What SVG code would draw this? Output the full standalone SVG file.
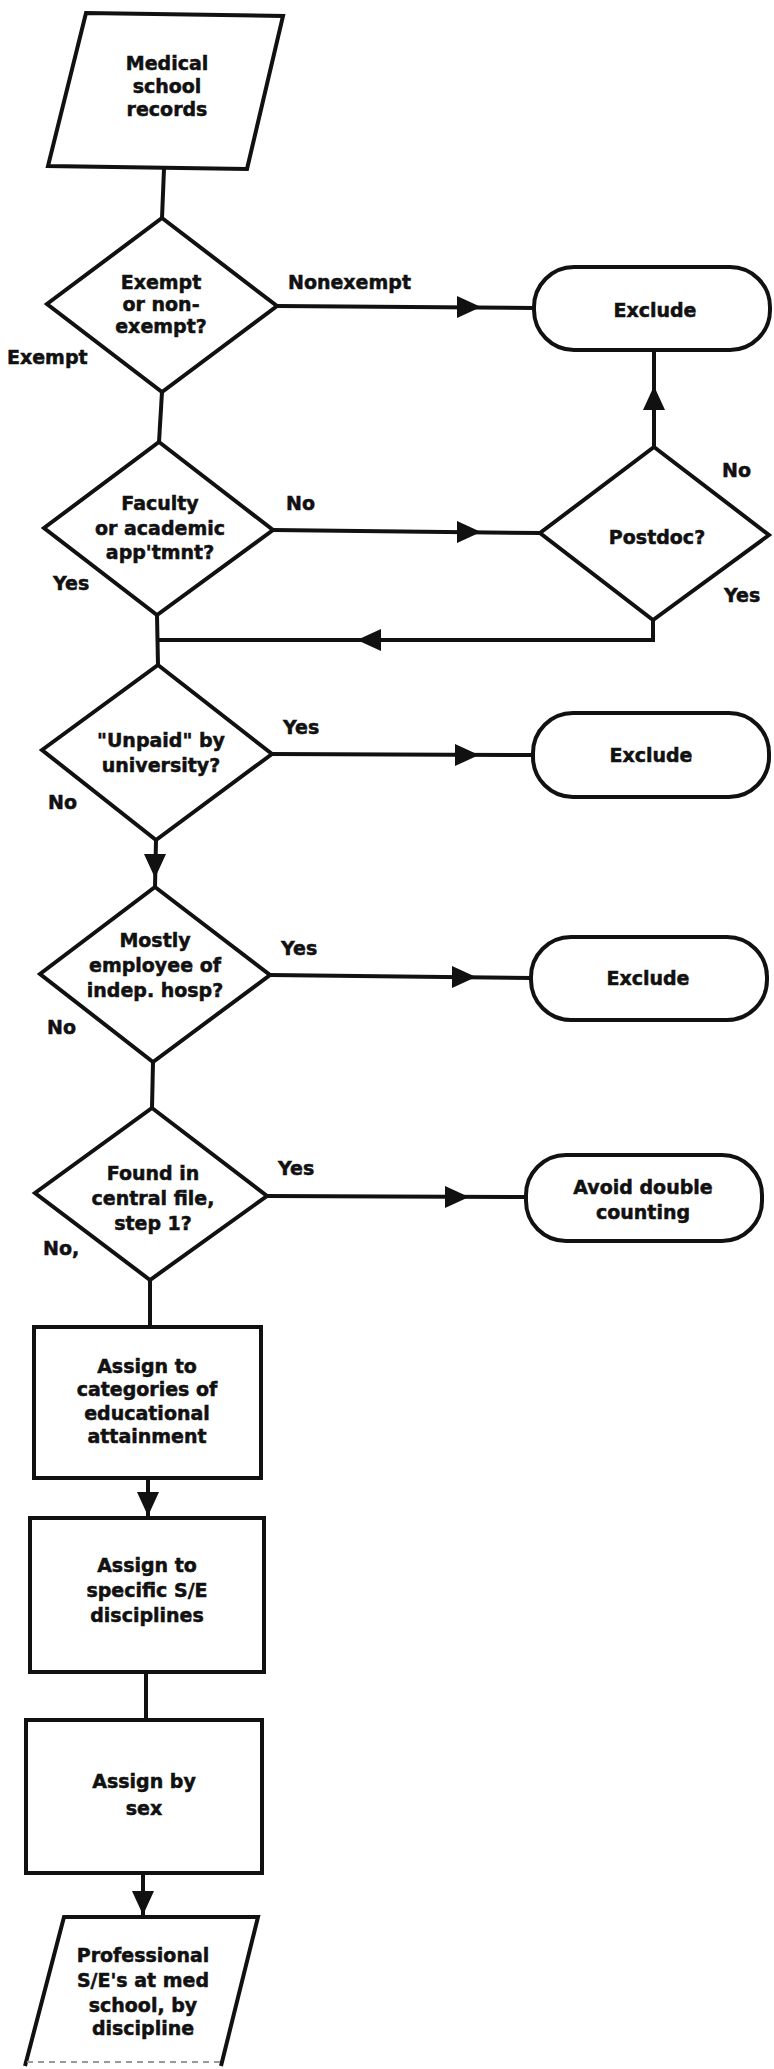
<svg xmlns="http://www.w3.org/2000/svg" xmlns:xlink="http://www.w3.org/1999/xlink" width="774" height="2069" viewBox="0 0 774 2069">
<style>
.s{fill:#fff;stroke:#111;stroke-width:4;stroke-linejoin:miter}
.c{fill:none;stroke:#111;stroke-width:4}
text{font-family:"DejaVu Sans","Liberation Sans",sans-serif;font-weight:bold;font-size:19px;fill:#111;stroke:#111;stroke-width:0.5}
.m{text-anchor:middle}
.ah{fill:#111}
</style>
<defs>
<path id="ah" class="ah" d="M0,0 L-24,-11 L-24,11 Z"/>
</defs>
<rect width="774" height="2069" fill="#fff"/>
<g id="connectors">
<path class="c" d="M164,169 L162,218"/>
<path class="c" d="M277,306 L534,308"/>
<path class="c" d="M162,392 L159,442"/>
<path class="c" d="M273,530 L540,533"/>
<path class="c" d="M654,447 L654,350"/>
<path class="c" d="M653,620 L653,640 L157,640"/>
<path class="c" d="M157,615 L158,665"/>
<path class="c" d="M272,754 L533,755"/>
<path class="c" d="M156,840 L155,887"/>
<path class="c" d="M270,975 L531,978"/>
<path class="c" d="M153,1062 L152,1108"/>
<path class="c" d="M267,1196 L526,1197"/>
<path class="c" d="M150,1280 L150,1327"/>
<path class="c" d="M148,1478 L148,1518"/>
<path class="c" d="M146,1672 L146,1720"/>
<path class="c" d="M143,1873 L143,1917"/>
<use xlink:href="#ah" transform="translate(481,307)"/>
<use xlink:href="#ah" transform="translate(481,532)"/>
<use xlink:href="#ah" transform="translate(654,386) rotate(-90)"/>
<use xlink:href="#ah" transform="translate(357,640) rotate(180)"/>
<use xlink:href="#ah" transform="translate(479,755)"/>
<use xlink:href="#ah" transform="translate(155,878) rotate(90)"/>
<use xlink:href="#ah" transform="translate(476,977)"/>
<use xlink:href="#ah" transform="translate(469,1197)"/>
<use xlink:href="#ah" transform="translate(148,1516) rotate(90)"/>
<use xlink:href="#ah" transform="translate(143,1915) rotate(90)"/>
</g>
<g id="labels">
<text x="288" y="289">Nonexempt</text>
<text x="7" y="364">Exempt</text>
<text x="286" y="510">No</text>
<text x="53" y="590">Yes</text>
<text x="722" y="477">No</text>
<text x="724" y="602">Yes</text>
<text x="283" y="734">Yes</text>
<text x="48" y="809">No</text>
<text x="281" y="955">Yes</text>
<text x="47" y="1034">No</text>
<text x="278" y="1175">Yes</text>
<text x="43" y="1255">No,</text>
</g>
<g id="n-records">
<polygon class="s" points="86,13 283,16 247,169 48,166"/>
<text class="m" x="167" y="70">Medical</text>
<text class="m" x="167" y="93">school</text>
<text class="m" x="167" y="116">records</text>
</g>
<g id="n-exempt">
<polygon class="s" points="162,218 277,306 162,392 47,304"/>
<text class="m" x="161" y="289">Exempt</text>
<text class="m" x="161" y="311">or non-</text>
<text class="m" x="161" y="333">exempt?</text>
</g>
<g id="n-exclude1">
<rect class="s" x="534" y="267" width="236" height="83" rx="40" ry="40"/>
<text class="m" x="655" y="317">Exclude</text>
</g>
<g id="n-faculty">
<polygon class="s" points="159,442 273,530 157,615 44,528"/>
<text class="m" x="160" y="510">Faculty</text>
<text class="m" x="160" y="535">or academic</text>
<text class="m" x="160" y="559">app'tmnt?</text>
</g>
<g id="n-postdoc">
<polygon class="s" points="654,447 769,535 653,620 540,533"/>
<text class="m" x="657" y="544">Postdoc?</text>
</g>
<g id="n-unpaid">
<polygon class="s" points="158,665 272,754 156,840 42,750"/>
<text class="m" x="161" y="747">"Unpaid" by</text>
<text class="m" x="161" y="772">university?</text>
</g>
<g id="n-exclude2">
<rect class="s" x="533" y="713" width="236" height="84" rx="40" ry="40"/>
<text class="m" x="651" y="762">Exclude</text>
</g>
<g id="n-hosp">
<polygon class="s" points="155,887 270,975 153,1062 40,974"/>
<text class="m" x="155" y="947">Mostly</text>
<text class="m" x="155" y="972">employee of</text>
<text class="m" x="155" y="997">indep. hosp?</text>
</g>
<g id="n-exclude3">
<rect class="s" x="531" y="937" width="236" height="83" rx="40" ry="40"/>
<text class="m" x="648" y="985">Exclude</text>
</g>
<g id="n-central">
<polygon class="s" points="152,1108 267,1196 150,1280 35,1193"/>
<text class="m" x="153" y="1180">Found in</text>
<text class="m" x="153" y="1205">central file,</text>
<text class="m" x="153" y="1230">step 1?</text>
</g>
<g id="n-avoid">
<rect class="s" x="526" y="1155" width="236" height="86" rx="40" ry="40"/>
<text class="m" x="643" y="1194">Avoid double</text>
<text class="m" x="643" y="1219">counting</text>
</g>
<g id="n-education">
<rect class="s" x="34" y="1327" width="227" height="151"/>
<text class="m" x="147" y="1373">Assign to</text>
<text class="m" x="147" y="1396">categories of</text>
<text class="m" x="147" y="1420">educational</text>
<text class="m" x="147" y="1443">attainment</text>
</g>
<g id="n-discipline">
<rect class="s" x="30" y="1518" width="234" height="154"/>
<text class="m" x="147" y="1572">Assign to</text>
<text class="m" x="147" y="1597">specific S/E</text>
<text class="m" x="147" y="1622">disciplines</text>
</g>
<g id="n-sex">
<rect class="s" x="26" y="1720" width="236" height="153"/>
<text class="m" x="144" y="1788">Assign by</text>
<text class="m" x="144" y="1815">sex</text>
</g>
<g id="n-output">
<polygon fill="#fff" points="64,1917 258,1917 222,2062 25,2062"/>
<path class="c" d="M25,2066 L64,1917 L258,1917 L221,2066"/>
<path d="M27,2062 L221,2062" fill="none" stroke="#999" stroke-width="2" stroke-dasharray="6,5"/>
<text class="m" x="143" y="1962">Professional</text>
<text class="m" x="143" y="1987">S/E's at med</text>
<text class="m" x="143" y="2012">school, by</text>
<text class="m" x="143" y="2035">discipline</text>
</g>
</svg>
